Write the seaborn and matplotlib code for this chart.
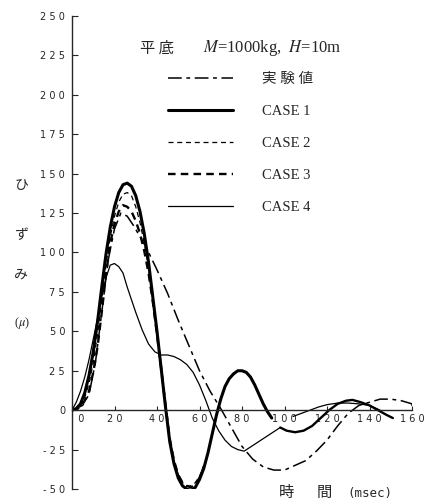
import numpy as np
import pandas as pd
import matplotlib
matplotlib.use("Agg")
import matplotlib.pyplot as plt
import seaborn as sns
from matplotlib.font_manager import FontProperties

sns.set_style("ticks")
plt.rcParams["font.family"] = ["Liberation Serif", "Noto Sans CJK JP", "DejaVu Sans"]
plt.rcParams["mathtext.fontset"] = "stix"

# ---------------- data (time in msec, strain in micro) ----------------
exp_t = [0, 5, 8, 11, 14, 17, 20, 23, 26, 29, 32, 35, 40, 45, 50, 55, 60, 65, 70, 75,
         80, 85, 90, 95, 100, 105, 110, 115, 120, 125, 130, 135, 140, 145, 150, 155, 160, 160]
exp_y = [0, 3, 10, 30, 62, 95, 115, 125, 123, 117, 110, 103, 89, 74, 57, 41, 25, 12, 1, -11,
         -23, -31, -36, -38, -38, -35, -32, -26, -19, -10, -2, 3, 5, 7, 7, 6, 4, 0]

case1_t = [0, 2, 4, 6, 8, 10, 12, 14, 16, 18, 20, 22, 24, 26, 28, 30, 32, 34, 36, 38, 40,
           42, 44, 46, 48, 50, 52, 54, 56, 58, 60, 62, 64, 66, 68, 70, 72, 74, 76, 78, 80,
           82, 84, 86, 88, 90, 92, 94]
case1_y = [0, 1, 4, 11, 22, 37, 56, 78, 99, 116, 129, 138, 143, 144, 142, 136, 126, 112, 94,
           72, 50, 26, 2, -20, -34, -43, -48, -50, -51, -49, -44, -37, -27, -15, -3, 7, 15,
           20, 23, 25, 25, 24, 21, 16, 10, 4, -1, -5]

case2_t = [0, 2, 4, 6, 8, 10, 12, 14, 16, 18, 20, 22, 24, 26, 28, 30, 32, 34, 36, 38, 40,
           42, 44, 46, 48, 50, 52, 54, 56, 58, 60, 62]
case2_y = [0, 1, 3, 8, 17, 30, 48, 70, 92, 110, 123, 132, 137, 138, 136, 129, 119, 106, 90,
           71, 49, 26, 3, -18, -32, -41, -46, -48, -48, -46, -42, -35]
case2_tail_t = [104, 108, 112, 116, 120, 125, 130, 135, 140, 145]
case2_tail_y = [-4, -2, 0, 2, 3.5, 4.5, 4.5, 4, 3, 0]

case3_t = [0, 2, 4, 6, 8, 10, 12, 14, 16, 18, 20, 22, 24, 26, 28, 30, 32, 34, 36, 38, 40,
           42, 44, 46, 48, 50, 52, 54, 56, 58, 60, 62]
case3_y = [0, 0.5, 2, 6, 12, 24, 40, 62, 86, 106, 118, 126, 130, 129, 126, 120, 112, 101, 87,
           69, 48, 26, 3, -18, -32, -41, -46, -48, -49, -47, -43, -36]

case4_t = [0, 2, 4, 6, 8, 10, 12, 14, 16, 18, 20, 22, 24, 26, 28, 30, 33, 36, 39, 42, 45,
           48, 51, 54, 57, 60, 63, 66, 69, 72, 75, 78, 81, 98]
case4_y = [0, 5, 12, 21, 32, 45, 58, 72, 84, 92, 93, 91, 87, 78, 70, 62, 51, 42, 37, 35, 35,
           34, 32, 29, 24, 16, 6, -5, -13, -19, -23, -25, -26, -11]
case4_tail_t = [98, 101, 105, 109, 113, 117, 121, 125, 129, 132, 136, 140, 144, 148, 151]
case4_tail_y = [-11, -13, -14, -13, -10, -5, 0, 4, 6, 6.5, 5, 3, 0, -3, -5]

legend_labels = ["実 験 値", "CASE 1", "CASE 2", "CASE 3", "CASE 4"]
x_ticks = [0, 20, 40, 60, 80, 100, 120, 140, 160]
x_ticklabels = ["  0", "2 0", "4 0", "6 0", "8 0", "1 0 0", "1 2 0", "1 4 0", "1 6 0"]
y_ticks = [-50, -25, 0, 25, 50, 75, 100, 125, 150, 175, 200, 225, 250]
y_ticklabels = ["- 5 0", "- 2 5", "0", "2 5", "5 0", "7 5", "1 0 0", "1 2 5", "1 5 0",
                "1 7 5", "2 0 0", "2 2 5", "2 5 0"]

# ---------------- figure ----------------
fig = plt.figure(figsize=(4.25, 5.04), dpi=100)
ax = fig.add_axes([72 / 425, 15 / 504, 340 / 425, 473 / 504])


def draw(t, y, **kw):
    df = pd.DataFrame({"t": t, "y": y})
    sns.lineplot(data=df, x="t", y="y", ax=ax, sort=False, estimator=None,
                 color="black", **kw)
    return ax.lines[-1]


h_exp = draw(exp_t, exp_y, lw=1.1, linestyle=(0, (9, 3, 2.5, 3)))
h1 = draw(case1_t, case1_y, lw=2.2, linestyle="-")
h2 = draw(case2_t, case2_y, lw=0.9, linestyle=(0, (4, 3)))
draw(case2_tail_t, case2_tail_y, lw=0.9, linestyle="-")
h3 = draw(case3_t, case3_y, lw=1.7, linestyle=(0, (3.2, 2.2)))
h4 = draw(case4_t, case4_y, lw=0.9, linestyle="-")
draw(case4_tail_t, case4_tail_y, lw=1.7, linestyle="-")

ax.set_xlim(0, 160)
ax.set_ylim(-50, 250)
ax.spines["top"].set_visible(False)
ax.spines["right"].set_visible(False)
ax.spines["bottom"].set_position(("data", 0))
for s in ("left", "bottom"):
    ax.spines[s].set_linewidth(1.0)
ax.set_xticks(x_ticks)
ax.set_xticklabels(x_ticklabels)
ax.set_yticks(y_ticks)
ax.set_yticklabels(y_ticklabels)
ax.tick_params(axis="x", direction="in", length=3, width=0.8, labelsize=7, pad=3)
ax.tick_params(axis="y", direction="in", length=4, width=0.8, labelsize=7, pad=5)
for lab in ax.get_xticklabels() + ax.get_yticklabels():
    lab.set_fontfamily("DejaVu Sans")
ax.get_xticklabels()[0].set_horizontalalignment("left")
ax.set_xlabel("")
ax.set_ylabel("")

leg = ax.legend([h_exp, h1, h2, h3, h4], legend_labels,
                prop=FontProperties(family=["Liberation Serif", "Noto Sans CJK JP"], size=10.5),
                frameon=False, loc="upper left",
                bbox_to_anchor=(168 / 425, 1 - 73 / 504), bbox_transform=fig.transFigure,
                borderaxespad=0, borderpad=0, handlelength=4.45, handletextpad=2.0,
                labelspacing=1.28)

jp = ["Noto Sans CJK JP", "DejaVu Sans"]
fig.text(157 / 425, 1 - 48 / 504, "平 底", family=jp, fontsize=11, ha="center", va="center")
fig.text(203 / 425, 1 - 48 / 504, r"$M$=1000kg,  $H$=10m", fontsize=12, ha="left", va="center")

for ch, yy in [("ひ", 185), ("ず", 235), ("み", 275)]:
    fig.text(21 / 425, 1 - yy / 504, ch, family=jp, fontsize=10, ha="center", va="center")
fig.text(22 / 425, 1 - 323 / 504, r"($\mu$)", fontsize=9, ha="center", va="center")

fig.text(286 / 425, 1 - 492 / 504, "時", family=jp, fontsize=11, ha="center", va="center")
fig.text(324 / 425, 1 - 492 / 504, "間", family=jp, fontsize=11, ha="center", va="center")
fig.text(370 / 425, 1 - 493 / 504, "(msec)", family=["DejaVu Sans Mono"], fontsize=9,
         ha="center", va="center")

fig.savefig("out.png", dpi=100)
